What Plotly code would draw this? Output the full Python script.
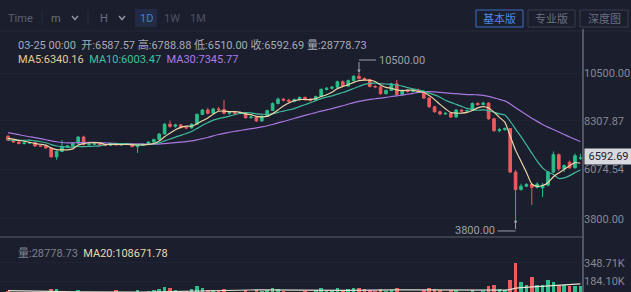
import plotly.graph_objects as go
import pandas as pd

# ---------------- data ----------------
warmup_close = [8750, 8800, 8760, 8640, 8480, 8500, 8500, 8200, 8140, 8100,
                7620, 7280, 7330, 7050, 7150, 7200, 7520, 7430, 7760, 7560,
                7420, 7320, 7300, 7200, 7520, 7500, 7520, 7500, 7540]
warmup_volume = [110, 105, 100, 115, 108, 95, 102, 90, 110, 100,
                 100, 88, 110, 118, 96, 90, 105, 125, 112, 92,
                 88, 84, 100, 96, 86, 82, 92, 88, 80]

open_ = [7600, 7420, 7330, 7260, 7290, 7300, 7150, 7140, 7060, 6650,
         6900, 7100, 7150, 7280, 7560, 7220, 7230, 7250, 7210, 7180,
         7260, 7200, 7230, 7240, 7120, 7180, 7240, 7330, 7450, 7700,
         8150, 8050, 8120, 8000, 7980, 8150, 8600, 8800, 8650, 8850,
         8820, 8650, 8680, 8640, 8680, 8450, 8480, 8300, 8520, 8780,
         9100, 9300, 9250, 9200, 9280, 9380, 9300, 9250, 9420, 9750,
         9800, 9850, 10100, 9900, 10150, 10350, 10250, 10200, 9880, 9860,
         9550, 9700, 10000, 9500, 9700, 9650, 9720, 9650, 9350, 8950,
         8720, 8620, 8650, 8480, 8800, 8750, 8780, 9100, 9050, 9120,
         8400, 7850, 7900, 7950, 5950, 5150, 5300, 5380, 5250, 5230,
         5350, 5950, 6750, 6100, 6400, 6150, 6587.57]
high = [7640, 7460, 7370, 7330, 7340, 7320, 7200, 7170, 7090, 6940,
        7420, 7190, 7310, 7600, 7620, 7270, 7290, 7280, 7240, 7300,
        7290, 7260, 7280, 7260, 7210, 7270, 7360, 7480, 7740, 8200,
        8320, 8170, 8160, 8060, 8190, 8650, 8850, 8900, 8900, 8950,
        9260, 8730, 8720, 8740, 8710, 8540, 8510, 8560, 8820, 9150,
        9380, 9350, 9320, 9330, 9420, 9420, 9340, 9460, 9790, 9850,
        9900, 10150, 10160, 10200, 10400, 10500, 10300, 10230, 9950, 9900,
        9740, 10050, 10180, 9750, 9740, 9760, 9780, 9680, 9390, 9000,
        8780, 8700, 8690, 8850, 8830, 8820, 9150, 9160, 9180, 9150,
        8440, 7980, 8000, 7970, 6050, 5420, 5450, 5420, 5480, 5450,
        6000, 6900, 6800, 6300, 6480, 6800, 6788.88]
low = [7380, 7300, 7230, 7220, 7240, 7120, 7100, 7020, 6620, 6520,
       6880, 7060, 7120, 7260, 7180, 7160, 7200, 7170, 7140, 7160,
       7170, 7180, 7190, 7090, 6830, 7150, 7220, 7300, 7420, 7680,
       7980, 7990, 7950, 7920, 7950, 8120, 8560, 8600, 8620, 8760,
       8600, 8590, 8580, 8600, 8400, 8410, 8250, 8260, 8500, 8750,
       9060, 9200, 9140, 9160, 9240, 9250, 9190, 9220, 9400, 9700,
       9740, 9820, 9860, 9870, 10120, 10200, 10150, 9840, 9800, 9500,
       9520, 9680, 9450, 9470, 9600, 9620, 9600, 9300, 8900, 8680,
       8560, 8580, 8430, 8450, 8700, 8720, 8760, 9000, 9020, 8350,
       7800, 7780, 7850, 5900, 3800, 5100, 5260, 4440, 5200, 4800,
       5300, 5900, 6000, 5950, 6100, 6120, 6510.00]
close = [7420, 7330, 7260, 7290, 7300, 7150, 7140, 7060, 6650, 6900,
         7100, 7150, 7280, 7560, 7220, 7230, 7250, 7210, 7180, 7260,
         7200, 7230, 7240, 7120, 7180, 7240, 7330, 7450, 7700, 8150,
         8050, 8120, 8000, 7980, 8150, 8600, 8800, 8650, 8850, 8820,
         8650, 8680, 8640, 8680, 8450, 8480, 8300, 8520, 8780, 9100,
         9300, 9250, 9200, 9280, 9380, 9300, 9250, 9420, 9750, 9800,
         9850, 10100, 9900, 10150, 10350, 10250, 10200, 9880, 9860, 9550,
         9700, 10000, 9500, 9700, 9650, 9720, 9650, 9350, 8950, 8720,
         8620, 8650, 8480, 8800, 8750, 8780, 9100, 9050, 9120, 8400,
         7850, 7900, 7950, 5950, 5150, 5300, 5380, 5250, 5400, 5350,
         5950, 6750, 6100, 6250, 6150, 6700, 6592.69]
volume_k = [95, 72, 68, 64, 80, 70, 66, 82, 108, 112,
            96, 76, 72, 100, 88, 72, 65, 62, 68, 76,
            106, 82, 70, 74, 104, 86, 90, 98, 112, 130,
            118, 100, 95, 90, 108, 135, 122, 104, 100, 90,
            112, 86, 80, 84, 100, 86, 98, 90, 106, 118,
            112, 95, 86, 82, 88, 90, 84, 98, 118, 104,
            100, 116, 106, 108, 122, 118, 112, 106, 95, 110,
            90, 100, 118, 86, 84, 80, 86, 100, 122, 108,
            102, 86, 106, 98, 82, 78, 100, 86, 95, 140,
            150, 110, 105, 195, 348.71, 175, 150, 220, 146, 150,
            192, 175, 146, 150, 135, 140, 142]

price_ticks = [3800.00, 6074.54, 8307.87, 10500.00]
volume_ticks_k = [184.10, 348.71]
last_date = "2020-03-25"

info_text = "03-25 00:00  开:6587.57 高:6788.88 低:6510.00 收:6592.69 量:28778.73"
ma_labels = [("MA5:6340.16", "#e6cb93"), ("MA10:6003.47", "#3fc0a0"), ("MA30:7345.77", "#b07ce8")]
vol_labels = [("量:28778.73", "#7d8190"), ("MA20:108671.78", "#e8d9b0")]

# ---------------- derived ----------------
n_warm = len(warmup_close)
n = len(close)
dates_all = pd.date_range(end=last_date, periods=n_warm + n, freq="D")
dates = dates_all[n_warm:]
all_close = pd.Series(warmup_close + close)
ma5 = all_close.rolling(5).mean().iloc[n_warm:]
ma10 = all_close.rolling(10).mean().iloc[n_warm:]
ma30 = all_close.rolling(30).mean().iloc[n_warm:]
all_vol = pd.Series([v * 1000 for v in warmup_volume + volume_k])
vma20 = all_vol.rolling(20).mean().iloc[n_warm:]
volume = [v * 1000 for v in volume_k]

GREEN = "#2bbd8a"
RED = "#ec5b5e"
BG = "#1b1e2c"
W, H, PW = 631, 292, 583

def px(x):
    return x / PW

def py(y):
    return 1 - y / H

fig = go.Figure()
fig.add_trace(go.Candlestick(
    x=dates, open=open_, high=high, low=low, close=close,
    increasing=dict(line=dict(color=GREEN, width=1), fillcolor=GREEN),
    decreasing=dict(line=dict(color=RED, width=1), fillcolor=RED),
    whiskerwidth=0, showlegend=False, hoverinfo="skip", xaxis="x", yaxis="y"))
for ser, col in [(ma30, "#a877e0"), (ma10, "#3fb99c"), (ma5, "#ecd6a6")]:
    fig.add_trace(go.Scatter(x=dates, y=ser, mode="lines", line=dict(color=col, width=1.2, shape="spline", smoothing=0.6),
                             showlegend=False, hoverinfo="skip", xaxis="x", yaxis="y"))
vcolors = [GREEN if c >= o else RED for o, c in zip(open_, close)]
fig.add_trace(go.Bar(x=dates, y=volume, marker=dict(color=vcolors, line=dict(width=0)),
                     width=0.7 * 86400000, showlegend=False, hoverinfo="skip", xaxis="x2", yaxis="y2"))
fig.add_trace(go.Scatter(x=dates, y=vma20, mode="lines", line=dict(color="#e6e1d2", width=1.2),
                         showlegend=False, hoverinfo="skip", xaxis="x2", yaxis="y2"))

day = pd.Timedelta(days=1)
x0 = dates[0] - 1.48 * day
x1 = x0 + (PW / 5.4) * day

p_top, p_bot = 12336, 2972
v_top, v_bot = 586260, 83560

axis_font = dict(family="Roboto, Noto Sans CJK SC", size=11, color="#858997")
fig.update_layout(
    width=W, height=H, margin=dict(l=0, r=W - PW, t=0, b=0),
    paper_bgcolor=BG, plot_bgcolor=BG,
    bargap=0, showlegend=False,
    xaxis=dict(domain=[0, 1], range=[x0, x1], visible=False, rangeslider=dict(visible=False), anchor="y"),
    xaxis2=dict(domain=[0, 1], matches="x", visible=False, anchor="y2"),
    yaxis=dict(domain=[py(237), py(33)], range=[p_bot, p_top], side="right", anchor="x",
               tickvals=price_ticks, ticktext=[f"{v:.2f}" for v in price_ticks],
               tickfont=axis_font, showgrid=True, gridcolor="#202333", zeroline=False, showline=False),
    yaxis2=dict(domain=[0, py(237)], range=[v_bot, v_top], side="right", anchor="x2",
                tickvals=[v * 1000 for v in volume_ticks_k], ticktext=[f"{v:.2f}K" for v in volume_ticks_k],
                tickfont=axis_font, showgrid=True, gridcolor="#202333", zeroline=False, showline=False),
    font=dict(family="Roboto, Noto Sans CJK SC", size=11),
)

shapes = []
ann = []
shapes.append(dict(type="line", xref="paper", yref="paper", x0=0, x1=px(W), y0=py(31), y1=py(31),
                   line=dict(color="#262a39", width=1)))
shapes.append(dict(type="line", xref="paper", yref="paper", x0=1, x1=1, y0=0, y1=py(29),
                   line=dict(color="#8a8d98", width=1)))
shapes.append(dict(type="line", xref="paper", yref="paper", x0=0, x1=1, y0=py(237), y1=py(237),
                   line=dict(color="#5c606c", width=1)))
for sx in [42, 88]:
    shapes.append(dict(type="line", xref="paper", yref="paper", x0=px(sx), x1=px(sx), y0=py(11), y1=py(25),
                       line=dict(color="#2a2e3d", width=1)))
shapes.append(dict(type="rect", xref="paper", yref="paper", x0=px(135), x1=px(157), y0=py(27), y1=py(9),
                   fillcolor="#222a45", line=dict(width=0), layer="below"))
for cx in [75, 122]:
    shapes.append(dict(type="path", xref="paper", yref="paper",
                       path=f"M {px(cx-3)},{py(16)} L {px(cx)},{py(19.5)} L {px(cx+3)},{py(16)}",
                       line=dict(color="#8d92a2", width=1.5)))
tb_font = dict(family="Roboto, Noto Sans CJK SC", size=11, color="#5c6172")
for txt, tx, col in [("Time", 20, "#5c6172"), ("m", 56, "#6a6f80"), ("H", 104, "#6a6f80"),
                     ("1D", 146, "#3f7fe0"), ("1W", 172, "#4c5163"), ("1M", 198, "#4c5163")]:
    ann.append(dict(xref="paper", yref="paper", x=px(tx), y=py(18), text=txt, showarrow=False,
                    xanchor="center", yanchor="middle", font=dict(tb_font, color=col)))
for txt, bx0, bx1, lc, tc in [("基本版", 476, 523, "#3d6fc4", "#4b88e8"),
                              ("专业版", 528, 575, "#383c4c", "#6c7183"),
                              ("深度图", 580, 628, "#383c4c", "#6c7183")]:
    shapes.append(dict(type="rect", xref="paper", yref="paper", x0=px(bx0), x1=px(bx1), y0=py(27), y1=py(10),
                       line=dict(color=lc, width=1), fillcolor="rgba(0,0,0,0)"))
    ann.append(dict(xref="paper", yref="paper", x=px((bx0 + bx1) / 2), y=py(18.5), text=txt, showarrow=False,
                    xanchor="center", yanchor="middle",
                    font=dict(family="Noto Sans CJK SC", size=11, color=tc)))
ann.append(dict(xref="paper", yref="paper", x=px(16), y=py(45), text=info_text, showarrow=False,
                xanchor="left", yanchor="middle", font=dict(size=11, color="#a7abb7")))
ann.append(dict(xref="paper", yref="paper", x=px(16), y=py(59),
                text="  ".join(f"<span style='color:{c}'>{t}</span>" for t, c in ma_labels), showarrow=False,
                xanchor="left", yanchor="middle", font=dict(size=11)))
ann.append(dict(xref="paper", yref="paper", x=px(16), y=py(253),
                text="  ".join(f"<span style='color:{c}'>{t}</span>" for t, c in vol_labels), showarrow=False,
                xanchor="left", yanchor="middle", font=dict(size=11)))

i_max = max(range(n), key=lambda i: high[i])
i_min = min(range(n), key=lambda i: low[i])
mk_col = "#9ca1ad"
ann.append(dict(x=dates[i_max], y=high[i_max], xref="x", yref="y", text=" ", showarrow=True,
                ax=0, ay=-13, arrowhead=2, arrowsize=0.7, arrowwidth=1, arrowcolor=mk_col, font=dict(size=1)))
shapes.append(dict(type="path", xref="x", yref="y", xsizemode="pixel", ysizemode="pixel",
                   xanchor=dates[i_max], yanchor=high[i_max], path="M 0,13 L 17,13",
                   line=dict(color=mk_col, width=1)))
ann.append(dict(x=dates[i_max], y=high[i_max], xref="x", yref="y", text=f"{high[i_max]:.2f}", showarrow=False,
                xanchor="left", yanchor="middle", xshift=18, yshift=13, font=dict(size=11, color=mk_col)))
ann.append(dict(x=dates[i_min], y=low[i_min], xref="x", yref="y", text=" ", showarrow=True,
                ax=0, ay=12, arrowhead=2, arrowsize=0.7, arrowwidth=1, arrowcolor=mk_col, font=dict(size=1)))
shapes.append(dict(type="path", xref="x", yref="y", xsizemode="pixel", ysizemode="pixel",
                   xanchor=dates[i_min], yanchor=low[i_min], path="M 0,-12 L -18,-12",
                   line=dict(color=mk_col, width=1)))
ann.append(dict(x=dates[i_min], y=low[i_min], xref="x", yref="y", text=f"{low[i_min]:.2f}", showarrow=False,
                xanchor="right", yanchor="middle", xshift=-19, yshift=-12, font=dict(size=11, color=mk_col)))
ann.append(dict(xref="paper", yref="y", x=1.002, y=close[-1], text=f"{close[-1]:.2f}", showarrow=False,
                xanchor="left", yanchor="middle", yshift=2, bgcolor="#d8dadf", borderpad=1, width=45,
                font=dict(size=11, color="#1d2029")))

fig.update_layout(shapes=shapes, annotations=ann)
fig.write_html("out.html")
